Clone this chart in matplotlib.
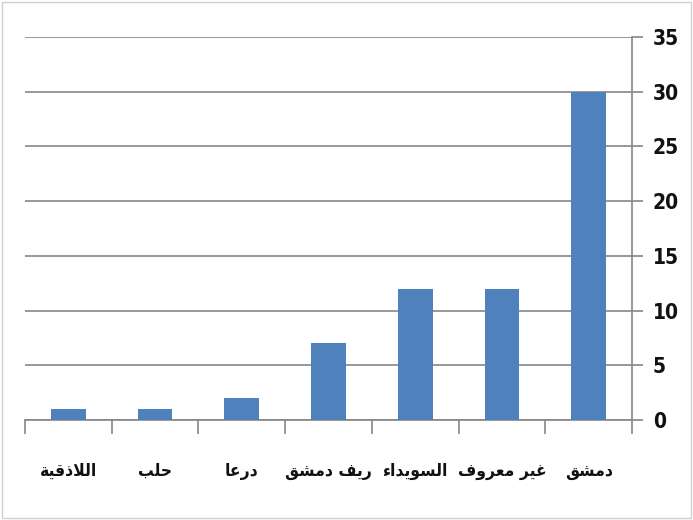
import matplotlib
matplotlib.use("Agg")
import matplotlib.pyplot as plt
from matplotlib.patches import Rectangle

categories = ["اللاذقية", "حلب", "درعا", "ريف دمشق", "السويداء", "غير معروف", "دمشق"]
values = [1, 1, 2, 7, 12, 12, 30]
yticks = [0, 5, 10, 15, 20, 25, 30, 35]

# Minimal Arabic shaping -> presentation forms (iso, fin, ini, med)
FORMS = {
    'ا': ('\uFE8D', '\uFE8E', None, None),
    'ب': ('\uFE8F', '\uFE90', '\uFE91', '\uFE92'),
    'ة': ('\uFE93', '\uFE94', None, None),
    'ح': ('\uFEA1', '\uFEA2', '\uFEA3', '\uFEA4'),
    'د': ('\uFEA9', '\uFEAA', None, None),
    'ذ': ('\uFEAB', '\uFEAC', None, None),
    'ر': ('\uFEAD', '\uFEAE', None, None),
    'س': ('\uFEB1', '\uFEB2', '\uFEB3', '\uFEB4'),
    'ش': ('\uFEB5', '\uFEB6', '\uFEB7', '\uFEB8'),
    'ع': ('\uFEC9', '\uFECA', '\uFECB', '\uFECC'),
    'غ': ('\uFECD', '\uFECE', '\uFECF', '\uFED0'),
    'ف': ('\uFED1', '\uFED2', '\uFED3', '\uFED4'),
    'ق': ('\uFED5', '\uFED6', '\uFED7', '\uFED8'),
    'ل': ('\uFEDD', '\uFEDE', '\uFEDF', '\uFEE0'),
    'م': ('\uFEE1', '\uFEE2', '\uFEE3', '\uFEE4'),
    'و': ('\uFEED', '\uFEEE', None, None),
    'ي': ('\uFEF1', '\uFEF2', '\uFEF3', '\uFEF4'),
    'ء': ('\uFE80', None, None, None),
}


def dual(c):
    f = FORMS.get(c)
    return f is not None and f[2] is not None


def joins(c):
    f = FORMS.get(c)
    return f is not None and f[1] is not None


def shape(s):
    out = []
    i = 0
    n = len(s)
    while i < n:
        c = s[i]
        if c not in FORMS:
            out.append(c)
            i += 1
            continue
        prev = s[i - 1] if i > 0 else None
        cp = prev is not None and dual(prev) and joins(c)
        if c == 'ل' and i + 1 < n and s[i + 1] == 'ا':
            out.append('\uFEFC' if cp else '\uFEFB')
            i += 2
            continue
        nxt = s[i + 1] if i + 1 < n else None
        cn = dual(c) and nxt is not None and joins(nxt)
        iso, fin, ini, med = FORMS[c]
        if cp and cn:
            g = med
        elif cp:
            g = fin
        elif cn:
            g = ini
        else:
            g = iso
        out.append(g)
        i += 1
    return ''.join(out)[::-1]


fig = plt.figure(figsize=(6.93, 5.2), dpi=100)
fig.patches.append(Rectangle((0.003, 0.003), 0.994, 0.994, transform=fig.transFigure,
                             fill=False, edgecolor='#d0d0d0', linewidth=1.0))
ax = fig.add_axes([25 / 693, 1 - 420 / 520, (632 - 25) / 693, (420 - 37) / 520])

x = list(range(len(categories)))
ax.bar(x, values, width=0.4, color='#4F81BD', zorder=3)
ax.set_xlim(-0.5, len(categories) - 0.5)
ax.set_ylim(0, 35)
ax.yaxis.tick_right()
ax.tick_params(axis='y', direction='out', length=8, width=1.2, color='#868686', pad=7)
ax.set_yticks(yticks, labels=[str(v) for v in yticks],
              family='DejaVu Sans', fontstretch='condensed', fontweight='bold',
              fontsize=15, color='#111111')
ax.grid(axis='y', color='#868686', linewidth=1.2, zorder=0)
for s in ['top', 'left']:
    ax.spines[s].set_visible(False)
ax.spines['right'].set_color('#868686')
ax.spines['bottom'].set_color('#868686')
ax.spines['right'].set_linewidth(1.2)
ax.spines['bottom'].set_linewidth(1.2)

# category boundary ticks
ax.tick_params(axis='x', which='major', direction='out', length=10, width=1.2, color='#868686')
ax.tick_params(axis='x', which='minor', length=0, pad=30)
ax.set_xticks([i - 0.5 for i in range(len(categories) + 1)], labels=[''] * (len(categories) + 1))
ax.set_xticks(x, labels=[shape(c) for c in categories], minor=True,
              family='DejaVu Sans', fontstretch='condensed', fontweight='bold',
              fontsize=12.5, color='#111111')

fig.savefig('out.png', dpi=100)
